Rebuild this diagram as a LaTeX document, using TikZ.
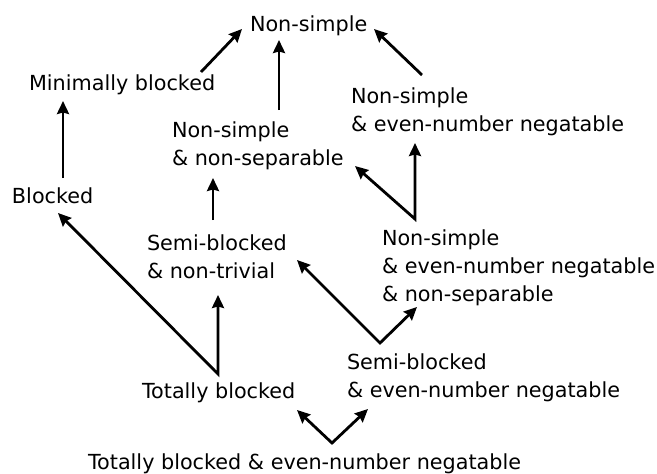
\documentclass[tikz,border=0pt]{standalone}
\usepackage{fontspec}
\setmainfont{DejaVu Sans}
\usetikzlibrary{arrows.meta}

\begin{document}
\begin{tikzpicture}[x=1pt, y=-1pt]
  \tikzset{LabelStyle/.style = {anchor       = base west,
                                inner sep    = 0pt,
                                outer sep    = 0pt,
                                align        = left,
                                font         = \fontsize{20.75}{28}\selectfont},
           BaseArrow/.style  = {line width   = 2.8pt,
                                line join    = miter,
                                >={Stealth[length=13pt, width=12pt, inset=1.5pt]}},
           ArrowStyle/.style = {BaseArrow, ->},
           VeeStyle/.style   = {BaseArrow, <->}}
  \useasboundingbox (0,0) rectangle (657,474);
  %%% LABELS (base = last line) %%%
  \node[LabelStyle](ns)   at (250,31)  {Non-simple};
  \node[LabelStyle](mb)   at (29,90)   {Minimally blocked};
  \node[LabelStyle](nse)  at (351,131) {Non-simple\\\& even-number negatable};
  \node[LabelStyle](nss)  at (172,165) {Non-simple\\\& non-separable};
  \node[LabelStyle](bl)   at (12,203)  {Blocked};
  \node[LabelStyle](sbt)  at (147,278) {Semi-blocked\\\& non-trivial};
  \node[LabelStyle](nses) at (382,301) {Non-simple\\\& even-number negatable\\\& non-separable};
  \node[LabelStyle](sbe)  at (347,397) {Semi-blocked\\\& even-number negatable};
  \node[LabelStyle](tb)   at (142,398) {Totally blocked};
  \node[LabelStyle](tbe)  at (88,469)  {Totally blocked \& even-number negatable};
  %%% TOP ROW %%%
  \draw[ArrowStyle] ([shift={(172,-18)}]mb.base west)  -- ([shift={(-8,-2)}]ns.base west);
  \draw[ArrowStyle] ([shift={(107,-55)}]nss.base west) -- ([shift={(29,9)}]ns.base west);
  \draw[ArrowStyle] ([shift={(71,-56)}]nse.base west)  -- ([shift={(124,-2)}]ns.base west);
  \draw[ArrowStyle] ([shift={(51,-25)}]bl.base west)   -- ([shift={(34,11)}]mb.base west);
  \draw[ArrowStyle] ([shift={(66,-58)}]sbt.base west)  -- ([shift={(41,13)}]nss.base west);
  %%% V SHAPES %%%
  \draw[VeeStyle] ([shift={(46,10)}]bl.base west) -- ([shift={(76,-24)}]tb.base west)
                  -- ([shift={(71,17)}]sbt.base west);
  \draw[VeeStyle] ([shift={(183,1)}]nss.base west) -- ([shift={(33,-82)}]nses.base west)
                  -- ([shift={(64,12)}]nse.base west);
  \draw[VeeStyle] ([shift={(150,-18)}]sbt.base west) -- ([shift={(33,-54)}]sbe.base west)
                  -- ([shift={(35,6)}]nses.base west);
  \draw[VeeStyle] ([shift={(155,12)}]tb.base west) -- ([shift={(244,-26)}]tbe.base west)
                  -- ([shift={(21,12)}]sbe.base west);
\end{tikzpicture}
\end{document}
